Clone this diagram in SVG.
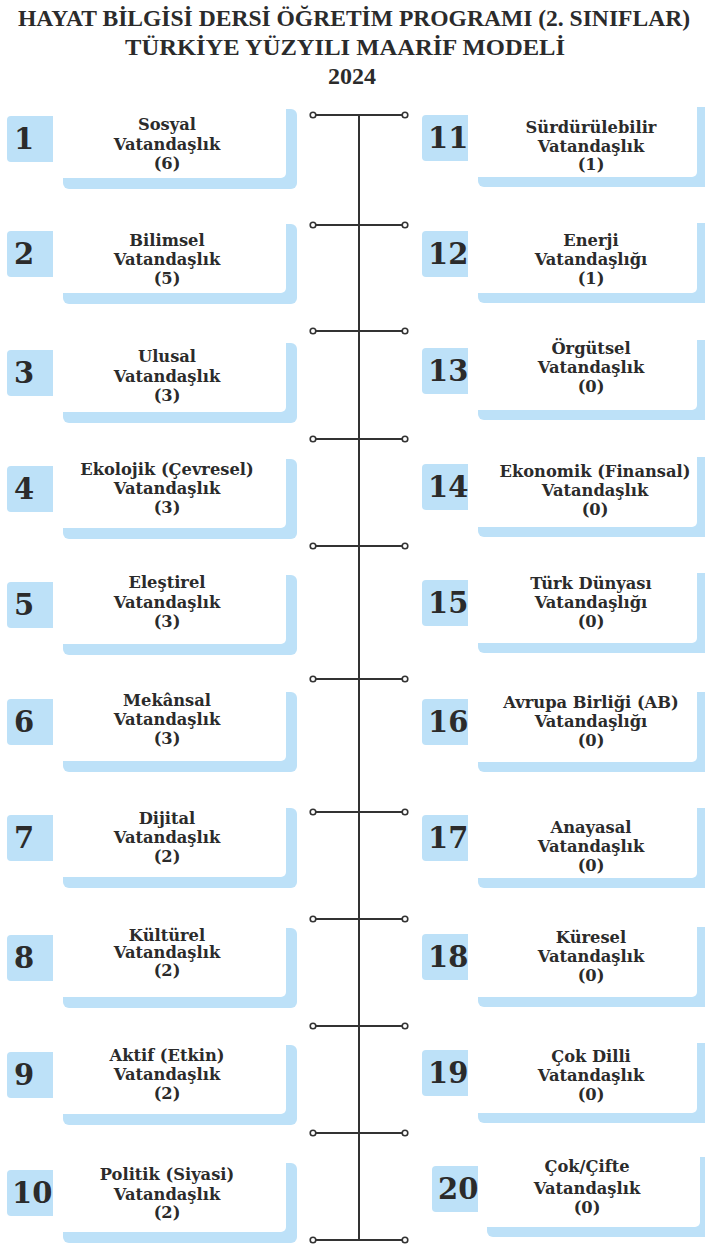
<svg xmlns="http://www.w3.org/2000/svg" width="705" height="1246" viewBox="0 0 705 1246">
  <style>
    .title { font-family: "Liberation Serif", "DejaVu Serif", serif; font-weight: bold; font-size: 24px; fill: #2b2b2b; text-anchor: middle; }
    .blue { fill: #bde1f8; }
    .face { fill: #ffffff; }
    .num { font-family: "DejaVu Serif", "Liberation Serif", serif; font-weight: bold; font-size: 29px; fill: #2b2b2b; }
    .lbl { font-family: "DejaVu Serif", "Liberation Serif", serif; font-weight: bold; font-size: 16.3px; fill: #2b2b2b; text-anchor: middle; }
    .spine { stroke: #333333; stroke-width: 2; fill: none; }
    .knob { fill: #ffffff; stroke: #333333; stroke-width: 1.6; }
  </style>
  <defs>
    <!-- number tab: rounded on the left, square where it meets the card -->
    <path id="tab" d="M4,0 H46 V46 H4 A4,4 0 0 1 0,42 V4 A4,4 0 0 1 4,0 Z"/>
    <!-- connector bar with open end knobs -->
    <g id="bar">
      <line x1="313" y1="0" x2="405" y2="0" class="spine"/>
      <circle cx="313" cy="0" r="2.8" class="knob"/>
      <circle cx="405" cy="0" r="2.8" class="knob"/>
    </g>
  </defs>

  <rect width="705" height="1246" fill="#ffffff"/>

  <g id="heading">
    <text class="title" x="354" y="26" textLength="672" lengthAdjust="spacingAndGlyphs">HAYAT BİLGİSİ DERSİ ÖĞRETİM PROGRAMI (2. SINIFLAR)</text>
    <text class="title" x="345" y="55" textLength="440" lengthAdjust="spacingAndGlyphs">TÜRKİYE YÜZYILI MAARİF MODELİ</text>
    <text class="title" x="352" y="84">2024</text>
  </g>

  <g id="connectors">
    <line x1="359" y1="115" x2="359" y2="1240" class="spine"/>
    <use href="#bar" y="115"/>
    <use href="#bar" y="225"/>
    <use href="#bar" y="331"/>
    <use href="#bar" y="439"/>
    <use href="#bar" y="546"/>
    <use href="#bar" y="679"/>
    <use href="#bar" y="812"/>
    <use href="#bar" y="919"/>
    <use href="#bar" y="1026"/>
    <use href="#bar" y="1133"/>
    <use href="#bar" y="1240"/>
  </g>

  <!-- left column -->
  <g id="n1">
    <rect class="blue" x="63" y="109" width="234" height="80" rx="6"/>
    <rect class="face" x="50" y="104" width="236" height="74" rx="5"/>
    <use href="#tab" x="7" y="116" class="blue"/>
    <text class="num" x="14" y="149">1</text>
    <text class="lbl" x="167" y="130">Sosyal</text>
    <text class="lbl" x="167" y="150">Vatandaşlık</text>
    <text class="lbl" x="167" y="169">(6)</text>
  </g>
  <g id="n2">
    <rect class="blue" x="63" y="224" width="234" height="80" rx="6"/>
    <rect class="face" x="50" y="219" width="236" height="74" rx="5"/>
    <use href="#tab" x="7" y="231" class="blue"/>
    <text class="num" x="14" y="264">2</text>
    <text class="lbl" x="167" y="246">Bilimsel</text>
    <text class="lbl" x="167" y="265">Vatandaşlık</text>
    <text class="lbl" x="167" y="284">(5)</text>
  </g>
  <g id="n3">
    <rect class="blue" x="63" y="343" width="234" height="80" rx="6"/>
    <rect class="face" x="50" y="338" width="236" height="74" rx="5"/>
    <use href="#tab" x="7" y="350" class="blue"/>
    <text class="num" x="14" y="383">3</text>
    <text class="lbl" x="167" y="362">Ulusal</text>
    <text class="lbl" x="167" y="382">Vatandaşlık</text>
    <text class="lbl" x="167" y="401">(3)</text>
  </g>
  <g id="n4">
    <rect class="blue" x="63" y="459" width="234" height="80" rx="6"/>
    <rect class="face" x="50" y="454" width="236" height="74" rx="5"/>
    <use href="#tab" x="7" y="466" class="blue"/>
    <text class="num" x="14" y="499">4</text>
    <text class="lbl" x="167" y="475">Ekolojik (Çevresel)</text>
    <text class="lbl" x="167" y="494">Vatandaşlık</text>
    <text class="lbl" x="167" y="513">(3)</text>
  </g>
  <g id="n5">
    <rect class="blue" x="63" y="575" width="234" height="80" rx="6"/>
    <rect class="face" x="50" y="570" width="236" height="74" rx="5"/>
    <use href="#tab" x="7" y="582" class="blue"/>
    <text class="num" x="14" y="615">5</text>
    <text class="lbl" x="167" y="588">Eleştirel</text>
    <text class="lbl" x="167" y="608">Vatandaşlık</text>
    <text class="lbl" x="167" y="627">(3)</text>
  </g>
  <g id="n6">
    <rect class="blue" x="63" y="692" width="234" height="80" rx="6"/>
    <rect class="face" x="50" y="687" width="236" height="74" rx="5"/>
    <use href="#tab" x="7" y="699" class="blue"/>
    <text class="num" x="14" y="732">6</text>
    <text class="lbl" x="167" y="706">Mekânsal</text>
    <text class="lbl" x="167" y="725">Vatandaşlık</text>
    <text class="lbl" x="167" y="744">(3)</text>
  </g>
  <g id="n7">
    <rect class="blue" x="63" y="808" width="234" height="80" rx="6"/>
    <rect class="face" x="50" y="803" width="236" height="74" rx="5"/>
    <use href="#tab" x="7" y="815" class="blue"/>
    <text class="num" x="14" y="848">7</text>
    <text class="lbl" x="167" y="824">Dijital</text>
    <text class="lbl" x="167" y="843">Vatandaşlık</text>
    <text class="lbl" x="167" y="862">(2)</text>
  </g>
  <g id="n8">
    <rect class="blue" x="63" y="928" width="234" height="80" rx="6"/>
    <rect class="face" x="50" y="923" width="236" height="74" rx="5"/>
    <use href="#tab" x="7" y="935" class="blue"/>
    <text class="num" x="14" y="968">8</text>
    <text class="lbl" x="167" y="941">Kültürel</text>
    <text class="lbl" x="167" y="958">Vatandaşlık</text>
    <text class="lbl" x="167" y="976">(2)</text>
  </g>
  <g id="n9">
    <rect class="blue" x="63" y="1045" width="234" height="80" rx="6"/>
    <rect class="face" x="50" y="1040" width="236" height="74" rx="5"/>
    <use href="#tab" x="7" y="1052" class="blue"/>
    <text class="num" x="14" y="1085">9</text>
    <text class="lbl" x="167" y="1061">Aktif (Etkin)</text>
    <text class="lbl" x="167" y="1080">Vatandaşlık</text>
    <text class="lbl" x="167" y="1099">(2)</text>
  </g>
  <g id="n10">
    <rect class="blue" x="63" y="1163" width="234" height="80" rx="6"/>
    <rect class="face" x="50" y="1158" width="236" height="74" rx="5"/>
    <use href="#tab" x="7" y="1170" class="blue"/>
    <text class="num" x="12" y="1203">10</text>
    <text class="lbl" x="167" y="1180">Politik (Siyasi)</text>
    <text class="lbl" x="167" y="1200">Vatandaşlık</text>
    <text class="lbl" x="167" y="1218">(2)</text>
  </g>

  <!-- right column -->
  <g id="n11">
    <rect class="blue" x="478" y="107" width="240" height="80" rx="6"/>
    <rect class="face" x="465" y="102" width="232" height="75" rx="5"/>
    <use href="#tab" x="422" y="115" class="blue"/>
    <text class="num" x="428" y="148">11</text>
    <text class="lbl" x="591" y="133">Sürdürülebilir</text>
    <text class="lbl" x="591" y="152">Vatandaşlık</text>
    <text class="lbl" x="591" y="170">(1)</text>
  </g>
  <g id="n12">
    <rect class="blue" x="478" y="223" width="240" height="80" rx="6"/>
    <rect class="face" x="465" y="218" width="232" height="75" rx="5"/>
    <use href="#tab" x="422" y="231" class="blue"/>
    <text class="num" x="428" y="264">12</text>
    <text class="lbl" x="591" y="246">Enerji</text>
    <text class="lbl" x="591" y="265">Vatandaşlığı</text>
    <text class="lbl" x="591" y="284">(1)</text>
  </g>
  <g id="n13">
    <rect class="blue" x="478" y="340" width="240" height="80" rx="6"/>
    <rect class="face" x="465" y="335" width="232" height="75" rx="5"/>
    <use href="#tab" x="422" y="348" class="blue"/>
    <text class="num" x="428" y="381">13</text>
    <text class="lbl" x="591" y="354">Örgütsel</text>
    <text class="lbl" x="591" y="373">Vatandaşlık</text>
    <text class="lbl" x="591" y="392">(0)</text>
  </g>
  <g id="n14">
    <rect class="blue" x="478" y="457" width="240" height="80" rx="6"/>
    <rect class="face" x="465" y="452" width="232" height="75" rx="5"/>
    <use href="#tab" x="422" y="464" class="blue"/>
    <text class="num" x="428" y="497">14</text>
    <text class="lbl" x="595" y="477">Ekonomik (Finansal)</text>
    <text class="lbl" x="595" y="496">Vatandaşlık</text>
    <text class="lbl" x="595" y="515">(0)</text>
  </g>
  <g id="n15">
    <rect class="blue" x="478" y="573" width="240" height="80" rx="6"/>
    <rect class="face" x="465" y="568" width="232" height="75" rx="5"/>
    <use href="#tab" x="422" y="580" class="blue"/>
    <text class="num" x="428" y="613">15</text>
    <text class="lbl" x="591" y="589">Türk Dünyası</text>
    <text class="lbl" x="591" y="608">Vatandaşlığı</text>
    <text class="lbl" x="591" y="627">(0)</text>
  </g>
  <g id="n16">
    <rect class="blue" x="478" y="692" width="240" height="80" rx="6"/>
    <rect class="face" x="465" y="687" width="232" height="75" rx="5"/>
    <use href="#tab" x="422" y="699" class="blue"/>
    <text class="num" x="428" y="732">16</text>
    <text class="lbl" x="591" y="708">Avrupa Birliği (AB)</text>
    <text class="lbl" x="591" y="727">Vatandaşlığı</text>
    <text class="lbl" x="591" y="746">(0)</text>
  </g>
  <g id="n17">
    <rect class="blue" x="478" y="808" width="240" height="80" rx="6"/>
    <rect class="face" x="465" y="803" width="232" height="75" rx="5"/>
    <use href="#tab" x="422" y="815" class="blue"/>
    <text class="num" x="428" y="848">17</text>
    <text class="lbl" x="591" y="833">Anayasal</text>
    <text class="lbl" x="591" y="852">Vatandaşlık</text>
    <text class="lbl" x="591" y="871">(0)</text>
  </g>
  <g id="n18">
    <rect class="blue" x="478" y="927" width="240" height="80" rx="6"/>
    <rect class="face" x="465" y="922" width="232" height="75" rx="5"/>
    <use href="#tab" x="422" y="934" class="blue"/>
    <text class="num" x="428" y="967">18</text>
    <text class="lbl" x="591" y="943">Küresel</text>
    <text class="lbl" x="591" y="962">Vatandaşlık</text>
    <text class="lbl" x="591" y="981">(0)</text>
  </g>
  <g id="n19">
    <rect class="blue" x="478" y="1043" width="240" height="80" rx="6"/>
    <rect class="face" x="465" y="1038" width="232" height="75" rx="5"/>
    <use href="#tab" x="422" y="1050" class="blue"/>
    <text class="num" x="428" y="1083">19</text>
    <text class="lbl" x="591" y="1062">Çok Dilli</text>
    <text class="lbl" x="591" y="1081">Vatandaşlık</text>
    <text class="lbl" x="591" y="1100">(0)</text>
  </g>
  <g id="n20">
    <rect class="blue" x="487" y="1157" width="240" height="80" rx="6"/>
    <rect class="face" x="474" y="1152" width="226" height="75" rx="5"/>
    <use href="#tab" x="432" y="1166" class="blue"/>
    <text class="num" x="438" y="1199">20</text>
    <text class="lbl" x="587" y="1172">Çok/Çifte</text>
    <text class="lbl" x="587" y="1194">Vatandaşlık</text>
    <text class="lbl" x="587" y="1213">(0)</text>
  </g>
</svg>
